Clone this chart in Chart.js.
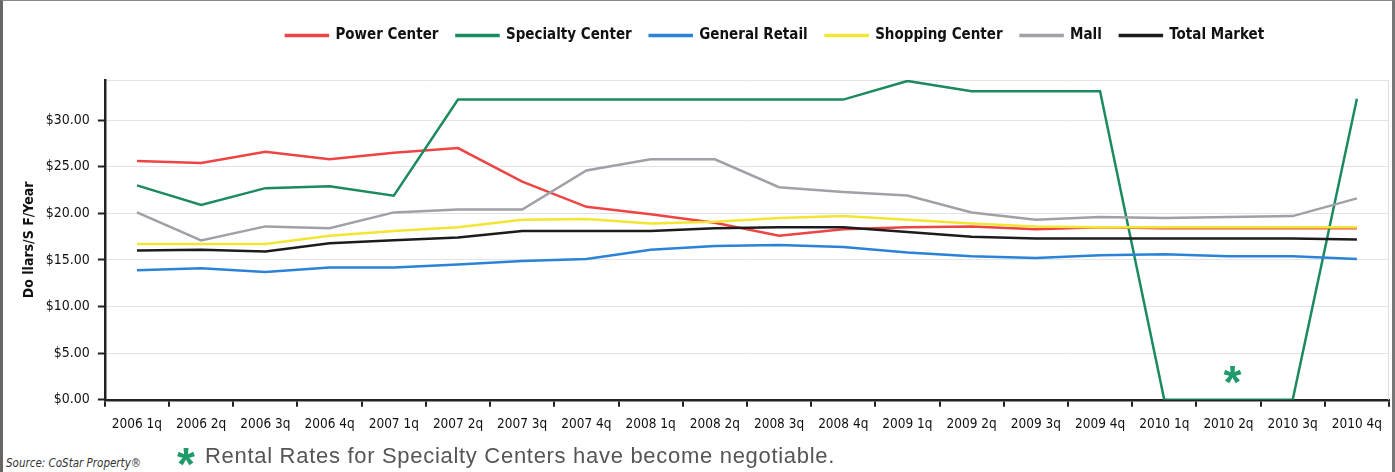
<!DOCTYPE html>
<html>
<head>
<meta charset="utf-8">
<script src="https://cdn.jsdelivr.net/npm/chart.js@4.4.1/dist/chart.umd.min.js"></script>
<style>
  html, body { margin: 0; padding: 0; background: #fff; }
  #frame {
    position: relative; width: 1395px; height: 472px; box-sizing: border-box;
    border-left: 3px solid #666; border-right: 3px solid #777; border-top: 1px solid #888;
    overflow: hidden; background: #fff;
  }
  #wrap { position: absolute; left: -3px; top: 0; width: 1395px; height: 442px; }
  #source {
    position: absolute; left: 3px; top: 455px; font: italic 11.5px "Liberation Sans Narrow", "DejaVu Sans Condensed", sans-serif; color: #333;
  }
  #note {
    position: absolute; left: 202px; top: 442px; line-height: 24px; font: 22px "Liberation Sans", Arial, sans-serif;
    letter-spacing: 0.7px; color: #555; white-space: nowrap;
  }
  #star {
    position: absolute; left: 174px; top: 436px; line-height: 46px; font: bold 46px "Liberation Sans", Arial, sans-serif; color: #1f9a6a;
  }
</style>
</head>
<body>
<div id="frame">
  <div id="wrap"><canvas id="grafico"></canvas></div>
  <div id="source">Source: CoStar Property®</div>
  <div id="star">*</div>
  <div id="note">Rental Rates for Specialty Centers have become negotiable.</div>
</div>
<script>
// trimestres
const quarters = ['2006 1q','2006 2q','2006 3q','2006 4q','2007 1q','2007 2q','2007 3q','2007 4q',
  '2008 1q','2008 2q','2008 3q','2008 4q','2009 1q','2009 2q','2009 3q','2009 4q',
  '2010 1q','2010 2q','2010 3q','2010 4q'];

// $ / SF / year
const powerCenter     = [25.6, 25.4, 26.6, 25.8, 26.5, 27.0, 23.4, 20.7, 19.9, 19.0, 17.6, 18.3, 18.5, 18.6, 18.3, 18.5, 18.4, 18.4, 18.4, 18.4];
const specialtyCenter = [23.0, 20.9, 22.7, 22.9, 21.9, 32.2, 32.2, 32.2, 32.2, 32.2, 32.2, 32.2, 34.2, 33.1, 33.1, 33.1, 0, 0, 0, 32.3];
const generalRetail   = [13.9, 14.1, 13.7, 14.2, 14.2, 14.5, 14.9, 15.1, 16.1, 16.5, 16.6, 16.4, 15.8, 15.4, 15.2, 15.5, 15.6, 15.4, 15.4, 15.1];
const shoppingCenter  = [16.7, 16.7, 16.7, 17.6, 18.1, 18.5, 19.3, 19.4, 18.9, 19.1, 19.5, 19.7, 19.3, 18.9, 18.6, 18.5, 18.5, 18.5, 18.5, 18.5];
const mall            = [20.1, 17.1, 18.6, 18.4, 20.1, 20.4, 20.4, 24.6, 25.8, 25.8, 22.8, 22.3, 21.9, 20.1, 19.3, 19.6, 19.5, 19.6, 19.7, 21.6];
const totalMarket     = [16.0, 16.1, 15.9, 16.8, 17.1, 17.4, 18.1, 18.1, 18.1, 18.4, 18.5, 18.5, 18.0, 17.5, 17.3, 17.3, 17.3, 17.3, 17.3, 17.2];

const yTicks = [0, 5, 10, 15, 20, 25, 30];
const yMax = 34.3;

// the green asterisk sitting on the zero run
const noteQuarter = '2010 2q';
const noteValue = 2.6;

const fonteNarrow = '"Liberation Sans Narrow", "DejaVu Sans Condensed", sans-serif';

const serie = (label, data, color, order) => ({
  label, data, order,
  borderColor: color, backgroundColor: color,
  borderWidth: 2.5, pointRadius: 0, tension: 0
});

// espaço abaixo da legenda + deslocamento pra direita, moldura direita, asterisco
const extras = {
  id: 'extras',
  beforeInit(chart) {
    const fitOriginal = chart.legend.fit;
    chart.legend.fit = function () {
      fitOriginal.bind(this)();
      this.height += 27;
    };
  },
  afterLayout(chart) {
    chart.legend.left += 70;
    chart.legend.right += 70;
  },
  beforeDatasetsDraw(chart) {
    const { ctx, chartArea: a } = chart;
    ctx.save();
    ctx.strokeStyle = '#dcdce2';
    ctx.lineWidth = 1;
    ctx.beginPath();
    ctx.moveTo(a.right - 0.5, a.top);
    ctx.lineTo(a.right - 0.5, a.bottom);
    ctx.stroke();
    ctx.restore();
  },
  afterDatasetsDraw(chart) {
    const { ctx, scales } = chart;
    const x = scales.x.getPixelForValue(quarters.indexOf(noteQuarter));
    const y = scales.y.getPixelForValue(noteValue);
    ctx.save();
    ctx.fillStyle = '#1f9a6a';
    ctx.font = 'bold 46px "Liberation Sans", Arial, sans-serif';
    ctx.textAlign = 'center';
    ctx.textBaseline = 'middle';
    ctx.fillText('*', x + 4, y + 10);
    ctx.restore();
  }
};

new Chart(document.getElementById('grafico'), {
  type: 'line',
  data: {
    labels: quarters,
    datasets: [
      serie('Power Center', powerCenter, '#ee4444', 5),
      serie('Specialty Center', specialtyCenter, '#1b8a5e', 4),
      serie('General Retail', generalRetail, '#2a83d6', 3),
      serie('Shopping Center', shoppingCenter, '#f3e533', 2),
      serie('Mall', mall, '#a0a0a6', 1),
      serie('Total Market', totalMarket, '#1c1c1c', 0)
    ]
  },
  options: {
    responsive: true,
    maintainAspectRatio: false,
    animation: false,
    layout: { padding: { left: 21, right: 6, top: 9, bottom: 0 } },
    plugins: {
      legend: {
        position: 'top',
        labels: {
          boxWidth: 42, boxHeight: 1, padding: 18, color: '#111',
          font: { family: fonteNarrow, size: 15, weight: 'bold' },
          sort: (a, b) => a.datasetIndex - b.datasetIndex
        }
      },
      tooltip: { enabled: false }
    },
    scales: {
      x: {
        offset: true,
        grid: { offset: true, drawOnChartArea: false, color: '#222', lineWidth: 2, tickLength: 7 },
        border: { color: '#222', width: 2.5 },
        ticks: { color: '#111', maxRotation: 0, autoSkip: false, padding: 10,
                 font: { family: fonteNarrow, size: 13.5 } }
      },
      y: {
        min: 0, max: yMax,
        afterBuildTicks: axis => { axis.ticks = yTicks.map(v => ({ value: v })).concat([{ value: yMax }]); },
        grid: {
          color: '#e2e2e8', lineWidth: 1, tickLength: 7, tickWidth: 2,
          tickColor: c => (c.tick && yTicks.includes(c.tick.value)) ? '#222' : 'transparent'
        },
        border: { color: '#222', width: 2.5 },
        title: { display: true, text: 'Do llars/S F/Year', color: '#111',
                 font: { family: fonteNarrow, size: 14, weight: 'bold' }, padding: { top: 0, bottom: 0 } },
        ticks: { color: '#111', padding: 8, font: { family: fonteNarrow, size: 14 },
                 callback: v => yTicks.includes(v) ? '$' + v.toFixed(2) : '' }
      }
    }
  },
  plugins: [extras]
});
</script>
</body>
</html>
